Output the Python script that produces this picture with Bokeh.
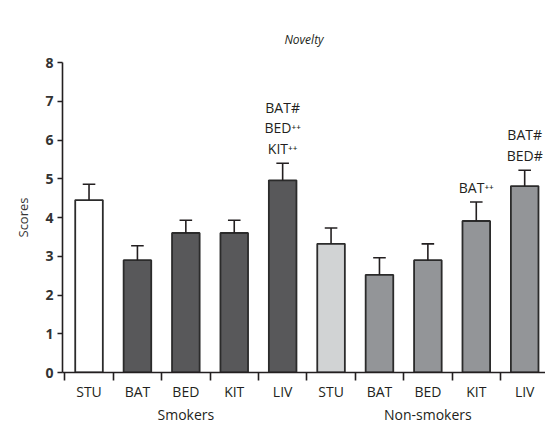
from bokeh.plotting import figure
from bokeh.models import (ColumnDataSource, Label, FixedTicker, Range1d, LinearAxis)
from bokeh.embed import file_html
from bokeh.resources import INLINE

# ---- data ----
title = "Novelty"
groups = ["Smokers", "Non-smokers"]
categories = ["STU", "BAT", "BED", "KIT", "LIV"]
smokers_mean = [4.45, 2.90, 3.60, 3.60, 4.96]
smokers_err = [0.41, 0.37, 0.33, 0.33, 0.44]
nonsmokers_mean = [3.32, 2.52, 2.90, 3.91, 4.81]
nonsmokers_err = [0.41, 0.44, 0.42, 0.49, 0.41]
# significance annotations: bar index, line from bottom, text
annot_bar = [4, 4, 4, 8, 9, 9]
annot_level = [2, 1, 0, 0, 1, 0]
annot_text = ["BAT#", "BED⁺⁺", "KIT⁺⁺", "BAT⁺⁺", "BAT#", "BED#"]

FONT = "Open Sans"
TXT = "#231f20"

n = len(categories)
xs = list(range(2 * n))
means = smokers_mean + nonsmokers_mean
errs = smokers_err + nonsmokers_err
tops = [m + e for m, e in zip(means, errs)]
fills = (["#ffffff"] + ["#58585a"] * (n - 1) + ["#d1d3d4"] + ["#939598"] * (n - 1))
labels = categories + categories

src = ColumnDataSource(dict(x=xs, top=means, err=tops, fill=fills))

p = figure(width=545, height=426, output_backend="svg", toolbar_location=None,
           x_range=Range1d(-0.548, 9.43), y_range=Range1d(0, 8),
           min_border_left=62, min_border_right=0, min_border_top=62,
           min_border_bottom=53)
p.outline_line_color = None
p.xgrid.grid_line_color = None
p.ygrid.grid_line_color = None
p.background_fill_color = "white"
p.border_fill_color = "white"

p.title.text = title
p.title.align = "center"
p.title.text_font = FONT
p.title.text_font_style = "italic"
p.title.text_font_size = "12px"
p.title.text_color = TXT
p.title.standoff = 30

# bars
p.vbar(x="x", top="top", bottom=0, width=0.57, source=src, fill_color="fill",
       line_color="#2b2b2b", line_width=1.8)
# error bars
p.segment(x0="x", y0="top", x1="x", y1="err", source=src, line_color=TXT, line_width=1.6)
cap = 0.13
p.segment(x0=[x - cap for x in xs], y0=tops, x1=[x + cap for x in xs], y1=tops,
          line_color=TXT, line_width=1.6)

# y axis
ya = p.yaxis[0]
ya.ticker = FixedTicker(ticks=list(range(0, 9)))
ya.minor_tick_line_color = None
ya.major_tick_out = 5
ya.major_tick_in = 0
ya.axis_line_color = TXT
ya.axis_line_width = 1.6
ya.major_tick_line_color = TXT
ya.major_tick_line_width = 1.6
ya.major_label_text_font = FONT
ya.major_label_text_font_style = "bold"
ya.major_label_text_font_size = "14px"
ya.major_label_text_color = "#333333"
ya.major_label_standoff = 4
ya.axis_label = "Scores"
ya.axis_label_text_font = FONT
ya.axis_label_text_font_style = "normal"
ya.axis_label_text_font_size = "13px"
ya.axis_label_text_color = "#333333"
ya.axis_label_standoff = 10

# x axis 1: ticks at category boundaries, no labels
bounds_ticks = [i - 0.5 for i in range(2 * n)]
xa = p.xaxis[0]
xa.ticker = FixedTicker(ticks=bounds_ticks)
xa.minor_tick_line_color = None
xa.major_tick_out = 8
xa.major_tick_in = 0
xa.axis_line_color = TXT
xa.axis_line_width = 1.6
xa.major_tick_line_color = TXT
xa.major_tick_line_width = 1.6
xa.major_label_overrides = {t: "" for t in bounds_ticks}
xa.major_label_standoff = 0

# x axis 2: category names at bar centres
xa2 = LinearAxis(ticker=FixedTicker(ticks=xs),
                 major_label_overrides={x: lab for x, lab in zip(xs, labels)})
xa2.axis_line_color = None
xa2.major_tick_line_color = None
xa2.minor_tick_line_color = None
xa2.major_tick_out = 0
xa2.major_tick_in = 0
xa2.major_label_standoff = 1
xa2.major_label_text_font = FONT
xa2.major_label_text_font_size = "14px"
xa2.major_label_text_color = TXT
p.add_layout(xa2, "below")

# x axis 3: group names
gx = [gi * n + (n - 1) / 2 for gi in range(len(groups))]
xa3 = LinearAxis(ticker=FixedTicker(ticks=gx),
                 major_label_overrides={x: g for x, g in zip(gx, groups)})
xa3.axis_line_color = None
xa3.major_tick_line_color = None
xa3.minor_tick_line_color = None
xa3.major_tick_out = 0
xa3.major_tick_in = 0
xa3.major_label_standoff = 1
xa3.major_label_text_font = FONT
xa3.major_label_text_font_size = "14px"
xa3.major_label_text_color = TXT
p.add_layout(xa3, "below")

# significance annotations
for b, lvl, t in zip(annot_bar, annot_level, annot_text):
    p.add_layout(Label(x=b, y=tops[b], y_offset=15 + 20.5 * lvl, text=t,
                       text_align="center", text_baseline="middle",
                       text_font=FONT, text_font_size="14px", text_color=TXT))

open("out.html", "w").write(file_html(p, INLINE))
